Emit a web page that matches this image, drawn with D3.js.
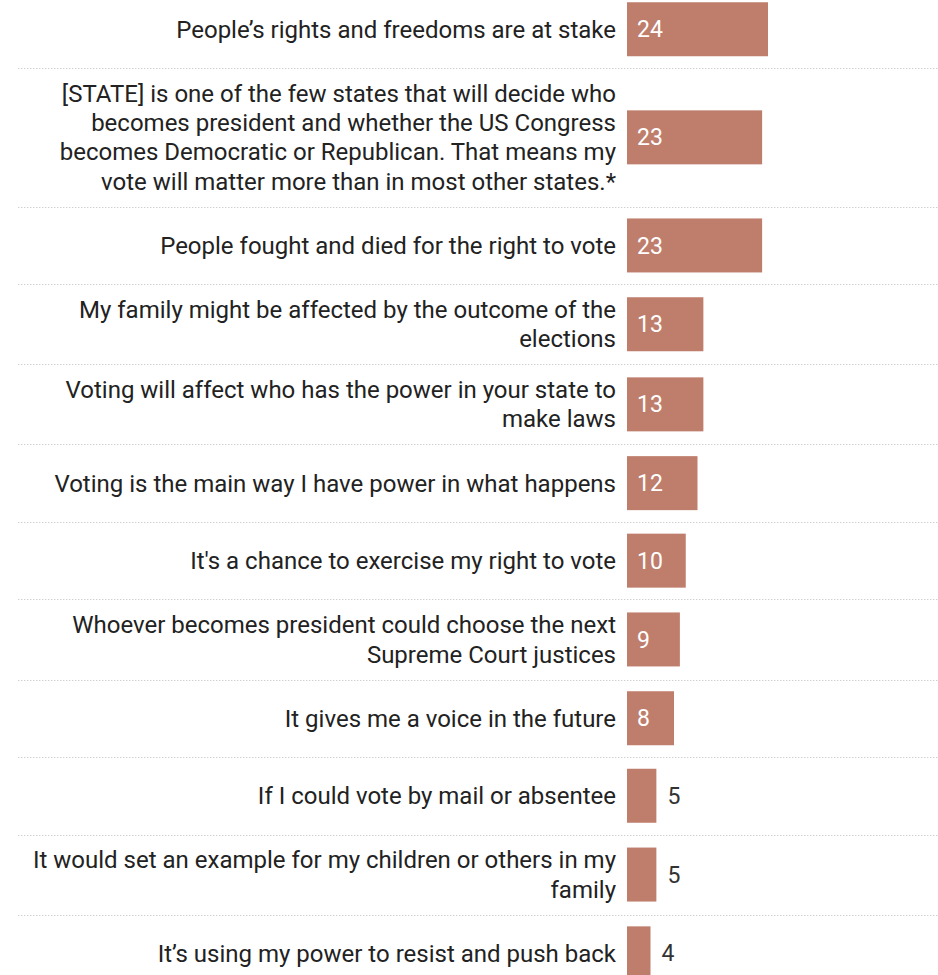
<!DOCTYPE html>
<html>
<head>
<meta charset="utf-8">
<script src="https://cdn.jsdelivr.net/npm/d3@7"></script>
<style>
  html, body { margin: 0; padding: 0; background: #fff; }
  svg { display: block; }
</style>
</head>
<body>
<div id="chart"></div>
<script>
// Reasons for voting, share of respondents (%)
const categories = [
  "People’s rights and freedoms are at stake",
  "[STATE] is one of the few states that will decide who\nbecomes president and whether the US Congress\nbecomes Democratic or Republican. That means my\nvote will matter more than in most other states.*",
  "People fought and died for the right to vote",
  "My family might be affected by the outcome of the\nelections",
  "Voting will affect who has the power in your state to\nmake laws",
  "Voting is the main way I have power in what happens",
  "It's a chance to exercise my right to vote",
  "Whoever becomes president could choose the next\nSupreme Court justices",
  "It gives me a voice in the future",
  "If I could vote by mail or absentee",
  "It would set an example for my children or others in my\nfamily",
  "It’s using my power to resist and push back"
];
const values = [24, 23, 23, 13, 13, 12, 10, 9, 8, 5, 5, 4];

const width = 938, height = 975;
const barLeft = 627;
const labelRight = 616;
const lineH = 29.3;
const barH = 54;
const insideMin = 8; // values at or above this are labelled inside the bar

const rows = categories.map((c, i) => {
  const lines = c.split("\n");
  return { label: c, lines, value: values[i], h: Math.max(77.5, lines.length * lineH + 21.5) };
});
let acc = -9.5;
rows.forEach(r => { r.y0 = acc; acc += r.h; r.cy = r.y0 + r.h / 2; });

const x = d3.scaleLinear().domain([0, 24]).range([0, 141]);

const svg = d3.select("#chart").append("svg")
  .attr("width", width).attr("height", height)
  .style("font-family", "Roboto, 'Noto Sans', sans-serif");

// dotted separators between rows
svg.append("g").selectAll("line")
  .data(rows.slice(0, -1))
  .join("line")
  .attr("x1", 18).attr("x2", width)
  .attr("y1", d => Math.round(d.y0 + d.h) + 0.5)
  .attr("y2", d => Math.round(d.y0 + d.h) + 0.5)
  .attr("stroke", "#cfcfcf")
  .attr("stroke-width", 1.2)
  .attr("stroke-dasharray", "1.4,1.6");

const row = svg.append("g").selectAll("g")
  .data(rows)
  .join("g");

// category labels
row.append("text")
  .attr("text-anchor", "end")
  .attr("fill", "#222")
  .style("font-size", "24px")
  .each(function(d) {
    const t = d3.select(this);
    const n = d.lines.length;
    d.lines.forEach((ln, k) => {
      t.append("tspan")
        .attr("x", labelRight)
        .attr("y", d.cy + (k - (n - 1) / 2) * lineH)
        .attr("dy", "0.35em")
        .text(ln);
    });
  });

// bars
row.append("rect")
  .attr("x", barLeft)
  .attr("y", d => d.cy - barH / 2)
  .attr("width", d => x(d.value))
  .attr("height", barH)
  .attr("fill", "#bf7e6c");

// value labels
row.append("text")
  .attr("x", d => d.value >= insideMin ? barLeft + 10 : barLeft + x(d.value) + 11)
  .attr("y", d => d.cy)
  .attr("dy", "0.35em")
  .attr("fill", d => d.value >= insideMin ? "#fff" : "#333")
  .style("font-size", "23px")
  .text(d => d.value);
</script>
</body>
</html>
